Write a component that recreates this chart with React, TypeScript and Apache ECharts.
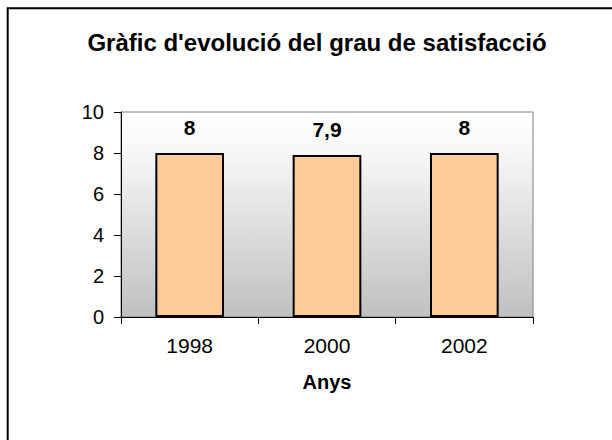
import React, { useEffect, useRef } from "react";
import * as echarts from "echarts";

const titleText = "Gràfic d'evolució del grau de satisfacció";
const categories = ["1998", "2000", "2002"];
const values = [8, 7.9, 8];
const xAxisName = "Anys";
const yMin = 0;
const yMax = 10;
const yInterval = 2;

export default function App() {
  const ref = useRef<HTMLDivElement>(null);
  useEffect(() => {
    if (!ref.current) return;
    const chart = echarts.init(ref.current, null, { renderer: "svg" });
    const font = "'Liberation Sans', Arial, sans-serif";
    chart.setOption({
      animation: false,
      backgroundColor: "#ffffff",
      title: {
        text: titleText,
        left: 312,
        top: 25,
        textAlign: "center",
        textStyle: { fontFamily: font, fontWeight: "bold", fontSize: 24, color: "#000" },
      },
      graphic: [
        {
          type: "rect",
          shape: { x: 7.7, y: 8.3, width: 700, height: 500 },
          style: { fill: "none", stroke: "#000", lineWidth: 2 },
          silent: true,
        },
      ],
      grid: {
        left: 121,
        top: 112,
        width: 412,
        height: 205,
        show: true,
        borderColor: "#808080",
        borderWidth: 1,
        backgroundColor: new echarts.graphic.LinearGradient(0, 0, 0, 1, [
          { offset: 0, color: "#ffffff" },
          { offset: 0.15, color: "#fafafa" },
          { offset: 1, color: "#c0c0c0" },
        ]),
      },
      xAxis: {
        type: "category",
        data: categories,
        name: xAxisName,
        nameLocation: "middle",
        nameGap: 55,
        nameTextStyle: { fontFamily: font, fontWeight: "bold", fontSize: 20, color: "#000" },
        axisLine: { lineStyle: { color: "#000", width: 1 } },
        axisTick: { show: true, length: 7, lineStyle: { color: "#000" } },
        axisLabel: { fontFamily: font, fontSize: 21, color: "#000", margin: 18 },
      },
      yAxis: {
        type: "value",
        min: yMin,
        max: yMax,
        interval: yInterval,
        axisLine: { show: true, lineStyle: { color: "#000", width: 1 } },
        axisTick: { show: true, length: 7, lineStyle: { color: "#000" } },
        splitLine: { show: false },
        axisLabel: { fontFamily: font, fontSize: 20, color: "#000", margin: 17 },
      },
      series: [
        {
          type: "bar",
          data: values,
          barWidth: "50%",
          itemStyle: { color: "#FFCC99", borderColor: "#000", borderWidth: 2 },
          label: {
            show: true,
            position: "top",
            distance: 15,
            fontFamily: font,
            fontWeight: "bold",
            fontSize: 21,
            color: "#000",
            formatter: (p: any) => String(p.value).replace(".", ","),
          },
        },
      ],
    });
    return () => chart.dispose();
  }, []);
  return (
    <div
      ref={ref}
      style={{ position: "absolute", left: 0, top: 0, width: 612, height: 440 }}
    />
  );
}
